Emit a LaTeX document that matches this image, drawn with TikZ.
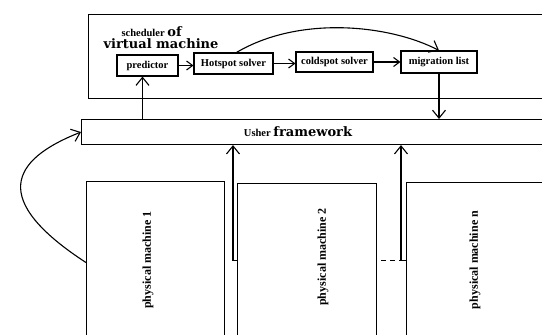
\documentclass[tikz,border=0pt]{standalone}
\usepackage{fontspec}
\setmainfont{Liberation Serif}
\newfontfamily\widefont{DejaVu Serif}
\usetikzlibrary{arrows.meta}

\tikzset{
  box/.style={draw, rectangle, inner sep=0pt, font=\bfseries\fontsize{10.5}{12}\selectfont},
  frame/.style={draw, rectangle, anchor=north west, inner sep=0pt},
  machinelabel/.style={rotate=90, inner sep=0pt, font=\bfseries\fontsize{12}{14}\selectfont},
  flow/.style={-{Straight Barb[length=8pt,width=13pt,line width=1.1pt]}},
  shortflow/.style={-{Straight Barb[length=6pt,width=9pt,line width=1.1pt]}},
}

\begin{document}
\begin{tikzpicture}[x=1pt, y=-1pt, line width=1.1pt]
\useasboundingbox (0,0) rectangle (542,335);
\clip (0,0) rectangle (542,335);

    % Scheduler frame and its title
    \node[frame, minimum width=480pt, minimum height=84pt] (sched) at (88,14) {};
    \node[anchor=west, inner sep=0pt, font=\bfseries\fontsize{10.5}{12}\selectfont] (schedtitle) at (121,32) {scheduler {\widefont\fontsize{13}{15}\selectfont of}};
    \node[anchor=west, inner sep=0pt, font=\widefont\bfseries\fontsize{13}{15}\selectfont] (vmtitle) at (103,44) {virtual machine};

    % Scheduler stages
    \node[box, minimum width=61pt, minimum height=21pt] (predictor) at (147.5,65.5) {predictor};
    \node[box, minimum width=79pt, minimum height=21pt] (hotspot) at (233.5,63.5) {Hotspot solver};
    \node[box, minimum width=77pt, minimum height=20pt] (coldspot) at (334.5,62) {coldspot solver};
    \node[box, minimum width=76pt, minimum height=22pt] (migration) at (439,62) {migration list};

    % Usher framework bar
    \node[frame, minimum width=480pt, minimum height=25pt] (usher) at (81,119) {};
    \node[inner sep=0pt, font=\bfseries\fontsize{10.5}{12}\selectfont] (usherlabel) at (298,132) {Usher {\widefont\fontsize{13}{15}\selectfont framework}};

    % Physical machines
    \node[frame, minimum width=138pt, minimum height=162pt] (pm1) at (86,181) {};
    \node[frame, minimum width=139pt, minimum height=154pt] (pm2) at (237,183) {};
    \node[frame, minimum width=160pt, minimum height=156pt] (pmn) at (406,182) {};
    \node[machinelabel] (pm1label) at (148,260) {physical machine 1};
    \node[machinelabel] (pm2label) at (323,257) {physical machine 2};
    \node[machinelabel] (pmnlabel) at (475,260) {physical machine n};

    % Flow inside the scheduler
    \draw[shortflow] (predictor.east) -- (predictor.east -| hotspot.west);
    \draw[shortflow] (hotspot.east) -- (hotspot.east -| coldspot.west);
    \draw[shortflow] (coldspot.east) -- (coldspot.east -| migration.west);
    \draw[flow] ([xshift=3pt]hotspot.north) .. controls (300,15) and (390,25) .. (migration.north);

    % Scheduler <-> Usher
    \coordinate (predin) at ([xshift=-5pt]predictor.south);
    \draw[flow] (predin |- usher.north) -- (predin);
    \draw[flow] (migration.south) -- (migration.south |- usher.north);

    % Machines -> Usher
    \draw[flow] (pm1.west) .. controls (-10,200) and (10,160) .. (usher.west);
    \coordinate (pm2in) at ([xshift=-4pt]pm2.west);
    \draw[flow] (pm2.west) -- (pm2in) -- (pm2in |- usher.south);
    \coordinate (pmnin) at ([xshift=-5pt]pmn.west);
    \coordinate (dots) at ([xshift=-25pt]pmn.west);
    \draw[dash pattern=on 5pt off 4pt] (dots) -- (pmnin);
    \draw[flow] (pmn.west) -- (pmnin) -- (pmnin |- usher.south);

\end{tikzpicture}
\end{document}
